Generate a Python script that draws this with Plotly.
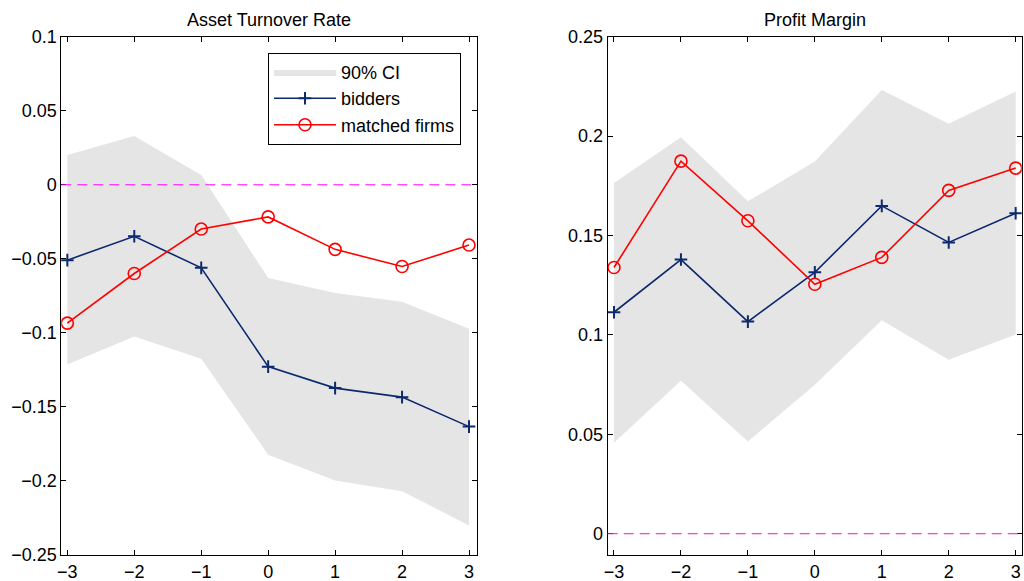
import plotly.graph_objects as go

years = [-3, -2, -1, 0, 1, 2, 3]

# Asset Turnover Rate
atr_bidders = [-0.0509, -0.0348, -0.0561, -0.1228, -0.1373, -0.1434, -0.1633]
atr_matched = [-0.0934, -0.0599, -0.0299, -0.0217, -0.0436, -0.0552, -0.0407]
atr_ci_upper = [0.0201, 0.0330, 0.0066, -0.0629, -0.0731, -0.0790, -0.0972]
atr_ci_lower = [-0.1214, -0.1024, -0.1174, -0.1823, -0.1997, -0.2069, -0.2300]

# Profit Margin
pm_bidders = [0.1114, 0.1379, 0.1067, 0.1315, 0.1649, 0.1465, 0.1612]
pm_matched = [0.1339, 0.1874, 0.1574, 0.1255, 0.1390, 0.1727, 0.1839]
pm_ci_upper = [0.1764, 0.1994, 0.1672, 0.1872, 0.2232, 0.2062, 0.2224]
pm_ci_lower = [0.0457, 0.0770, 0.0464, 0.0749, 0.1074, 0.0875, 0.1002]

x_ticks = [-3, -2, -1, 0, 1, 2, 3]
x_ticktext = ["\u22123", "\u22122", "\u22121", "0", "1", "2", "3"]
atr_yticks = [0.1, 0.05, 0, -0.05, -0.1, -0.15, -0.2, -0.25]
atr_yticktext = ["0.1", "0.05", "0", "\u22120.05", "\u22120.1", "\u22120.15", "\u22120.2", "\u22120.25"]
pm_yticks = [0, 0.05, 0.1, 0.15, 0.2, 0.25]
pm_yticktext = ["0", "0.05", "0.1", "0.15", "0.2", "0.25"]

CI_COLOR = "#e5e5e5"
NAVY = "#0d2a6e"
RED = "#ff0000"
FONT = "Liberation Sans, Arial, Helvetica, sans-serif"
FS = 18

fig = go.Figure()


def add_panel(xa, ya, bid, mat, up, lo, showlegend):
    fig.add_trace(go.Scatter(
        x=years + years[::-1], y=up + lo[::-1], fill="toself",
        fillcolor=CI_COLOR, line=dict(width=0, color=CI_COLOR), mode="lines",
        name="90% CI", showlegend=showlegend, hoverinfo="skip",
        xaxis=xa, yaxis=ya))
    fig.add_trace(go.Scatter(
        x=years, y=bid, mode="lines+markers", name="bidders",
        line=dict(color=NAVY, width=1.6),
        marker=dict(symbol="cross-thin", size=9, line=dict(color=NAVY, width=2)),
        showlegend=showlegend, xaxis=xa, yaxis=ya))
    fig.add_trace(go.Scatter(
        x=years, y=mat, mode="lines+markers", name="matched firms",
        line=dict(color=RED, width=1.6),
        marker=dict(symbol="circle-open", size=12, line=dict(color=RED, width=1.6)),
        showlegend=showlegend, xaxis=xa, yaxis=ya))


add_panel("x", "y", atr_bidders, atr_matched, atr_ci_upper, atr_ci_lower, True)
add_panel("x2", "y2", pm_bidders, pm_matched, pm_ci_upper, pm_ci_lower, False)

# zero reference lines
for xr, yr in (("x domain", "y"), ("x2 domain", "y2")):
    fig.add_shape(type="line", xref=xr, yref=yr, x0=0, x1=1, y0=0, y1=0,
                  line=dict(color="#ff00ff", width=1, dash="10px,6px"), layer="above")

axis_common = dict(showgrid=False, zeroline=False, showline=True, linecolor="black",
                   linewidth=1, mirror="allticks", ticks="inside", ticklen=5,
                   automargin=False,
                   tickcolor="black", tickfont=dict(size=FS, color="black", family=FONT))

y0, y1 = 1 - 555 / 581, 1 - 36.7 / 581
fig.update_layout(
    width=1024, height=581,
    margin=dict(l=0, r=0, t=0, b=0, autoexpand=False),
    paper_bgcolor="white", plot_bgcolor="white",
    font=dict(family=FONT, size=FS, color="black"),
    xaxis=dict(domain=[61.3 / 1024, 476.7 / 1024], range=[-3.09, 3.115],
               tickvals=x_ticks, ticktext=x_ticktext, **axis_common),
    yaxis=dict(domain=[y0, y1], range=[-0.25, 0.1],
               tickvals=atr_yticks, ticktext=atr_yticktext, **axis_common),
    xaxis2=dict(domain=[607.7 / 1024, 1021.7 / 1024], range=[-3.094, 3.09],
                tickvals=x_ticks, ticktext=x_ticktext, anchor="y2", **axis_common),
    yaxis2=dict(domain=[y0, y1], range=[-0.0107, 0.25], anchor="x2",
                tickvals=pm_yticks, ticktext=pm_yticktext, **axis_common),
    legend=dict(x=268 / 1024, xanchor="left", xref="paper",
                y=1 - 52.7 / 581, yanchor="top",
                bgcolor="white", bordercolor="black", borderwidth=1,
                font=dict(size=FS, family=FONT, color="black"),
                tracegroupgap=0, itemwidth=62),
    annotations=[
        dict(text="Asset Turnover Rate", x=(61.3 + 476.7) / 2 / 1024, y=1 - 20 / 581,
             xref="paper", yref="paper", showarrow=False,
             xanchor="center", yanchor="middle",
             font=dict(size=FS, family=FONT, color="black")),
        dict(text="Profit Margin", x=(607.7 + 1021.7) / 2 / 1024, y=1 - 20 / 581,
             xref="paper", yref="paper", showarrow=False,
             xanchor="center", yanchor="middle",
             font=dict(size=FS, family=FONT, color="black")),
    ],
)

fig.write_html("out.html")
